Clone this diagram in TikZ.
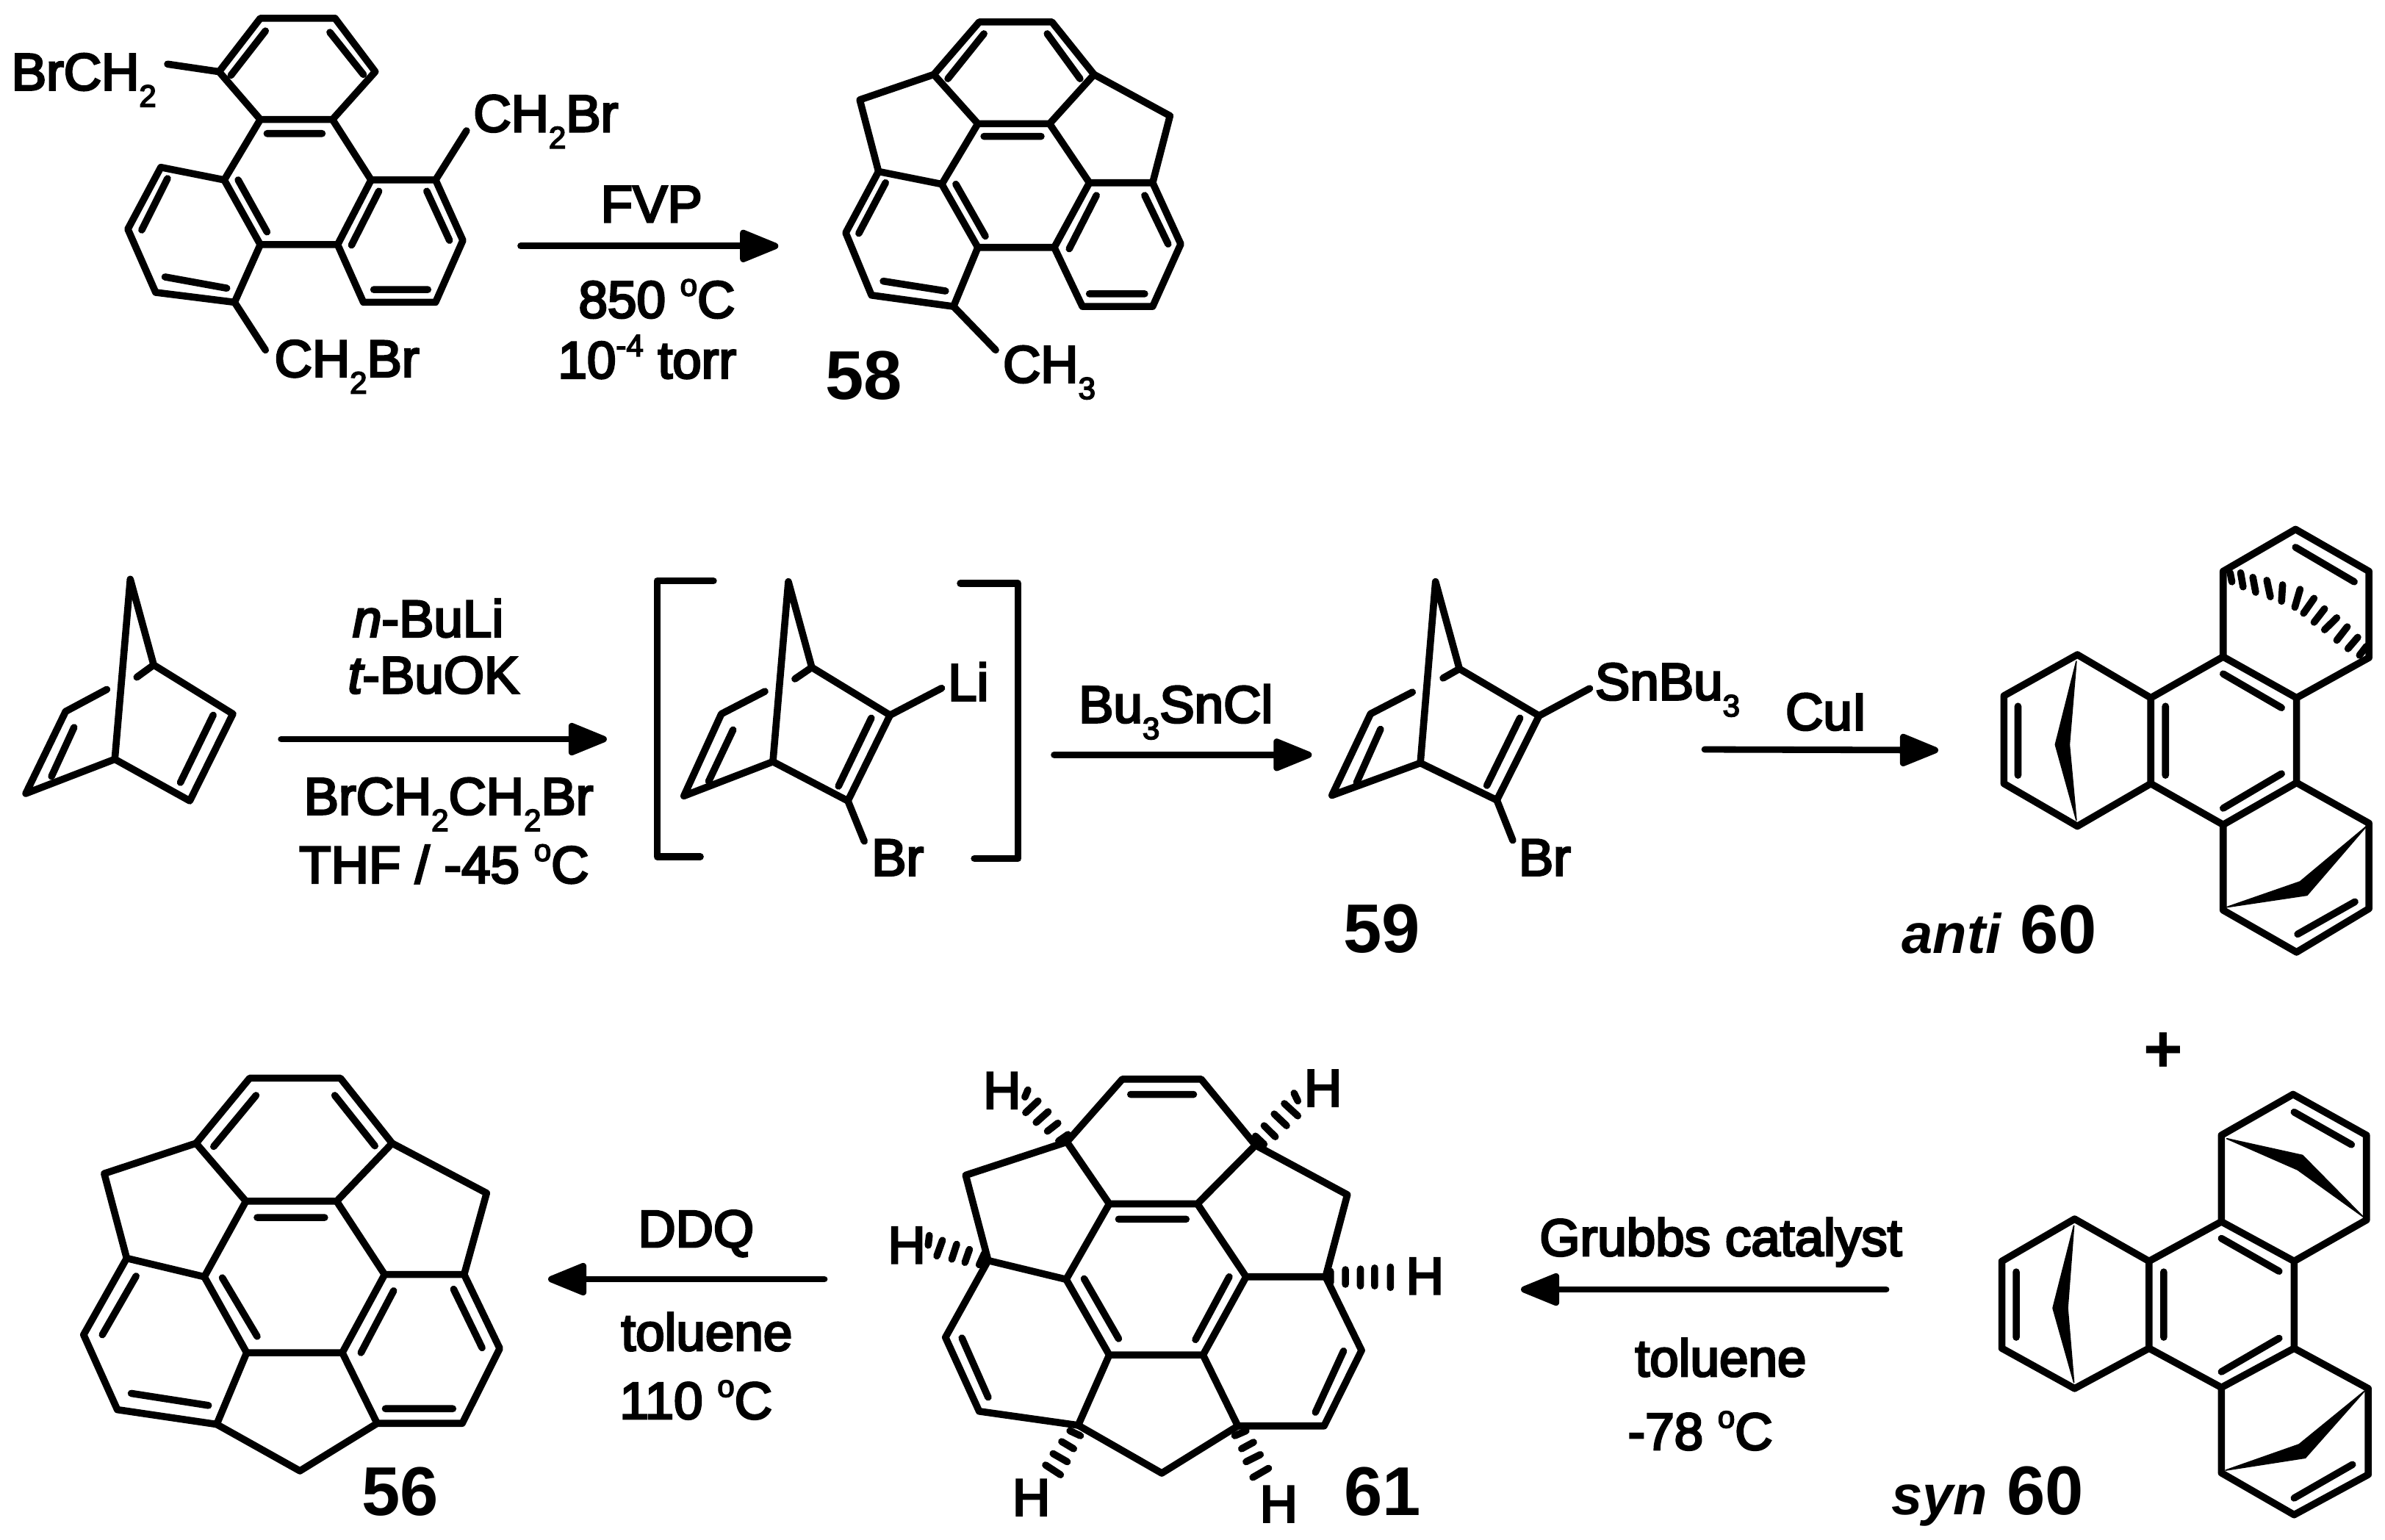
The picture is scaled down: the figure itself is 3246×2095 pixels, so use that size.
\documentclass[tikz,border=0pt]{standalone}
\usepackage{fontspec}
\setmainfont{Liberation Sans}
\newfontfamily\labf[FakeBold=4]{Liberation Sans}
\usetikzlibrary{arrows.meta}
\newcommand\dn[1]{\raisebox{-0.32em}{\fontsize{21}{21}\selectfont #1}}
\newcommand\up[1]{\raisebox{0.42em}{\fontsize{21}{21}\selectfont #1}}
\newcommand\atoms[1]{\foreach \n/\x/\y in {#1}{\coordinate (\n) at (\x,\y);}}
\tikzset{
  bond/.style={line width=4.8pt,line cap=round,line join=round,black},
  hash/.style={line width=4.8pt,line cap=round,black},
  wedge/.style={fill=black,draw=black,line width=.8pt,line join=round},
  rxn/.style={line width=4.4pt,line cap=round,black,-{Triangle[length=30pt,width=23pt,round]}},
  lab/.style={anchor=base west,inner sep=0pt,font=\labf\fontsize{35.5}{36}\selectfont},
  labc/.style={anchor=base,inner sep=0pt,font=\labf\fontsize{35.5}{36}\selectfont},
  num/.style={anchor=base west,inner sep=0pt,font=\bfseries\fontsize{47}{47}\selectfont},
  stereo/.style={anchor=base west,inner sep=0pt,font=\bfseries\fontsize{47}{47}\selectfont},
  zoomed/.style n args={4}{shift={(#1,#2)},xscale=#3/1568,yscale=#4/1568}
}
\begin{document}
\begin{tikzpicture}[x=0.5pt,y=-0.5pt]
\useasboundingbox (0,0) rectangle (3246,2095);
\fill[white] (0,0) rectangle (3246,2095);

% ---------- tribromide
\begin{scope}[zoomed={0}{0}{1100}{600}]
\atoms{Aa/505/65,Ab/650/65,Ac/728/255,Ad/645/425,Ae/505/425,Af/425/255,
 Ag/435/640,Ah/720/640,Ai/845/640,Aj/898/855,Ak/845/1075,Al/705/1075,Am/655/870,An/505/870,
 Ao/312/595,Ap/248/815,Aq/302/1040,Ar/455/1075,As/325/228,At/905/465,Au/515/1245,
 Av/1010/875,Aw/1510/875}
\draw[bond] (Aa)--(Ab)--(Ac)--(Ad)--(Ae)--(Af)--cycle;
\draw[bond] (Ae)--(Ag)--(An)--(Am)--(Ah)--(Ad);
\draw[bond] (Ah)--(Ai)--(Aj)--(Ak)--(Al)--(Am);
\draw[bond] (Ag)--(Ao)--(Ap)--(Aq)--(Ar)--(An);
\draw[bond] (Af)--(As) (Ai)--(At) (Ar)--(Au);
\draw[bond] (448,268)--(515,110) (640,115)--(705,265) (518,475)--(625,475)
 (462,640)--(518,825) (735,680)--(682,872) (828,680)--(872,855) (725,1030)--(830,1030)
 (325,635)--(275,818) (320,985)--(440,1025);
\draw[rxn] (Av)--(Aw);
\node[lab] (t1) at (22,320) {BrCH\dn{2}};
\node[lab] (t2) at (918,468) {CH\dn{2}Br};
\node[lab] (t3) at (532,1340) {CH\dn{2}Br};
\node[lab] (t4) at (1165,790) {FVP};
\node[lab] (t5) at (1122,1130) {850 \up{o}C};
\node[lab] (t6) at (1082,1345) {10\up{-4} torr};
\end{scope}

% ---------- 58
\begin{scope}[zoomed={1100}{0}{1000}{600}]
\atoms{Ba/365/78,Bb/520/78,Bc/610/265,Bd/515/440,Be/362/440,Bf/268/265,
 Bg/110/355,Bh/150/610,Bi/285/655,Bj/772/412,Bk/735/650,Bl/600/650,
 Bm/362/880,Bn/525/880,Bo/795/868,Bp/735/1090,Bq/585/1090,
 Br/80/828,Bs/135/1050,Bt/310/1090,Bu/400/1245}
\draw[bond] (Ba)--(Bb)--(Bc)--(Bd)--(Be)--(Bf)--cycle;
\draw[bond] (Bf)--(Bg)--(Bh)--(Bi)--(Be);
\draw[bond] (Bc)--(Bj)--(Bk)--(Bl)--(Bd);
\draw[bond] (Bi)--(Bm)--(Bn)--(Bl);
\draw[bond] (Bk)--(Bo)--(Bp)--(Bq)--(Bn);
\draw[bond] (Bh)--(Br)--(Bs)--(Bt)--(Bm);
\draw[bond] (Bt)--(Bu);
\draw[bond] (298,280)--(375,120) (510,120)--(580,280) (375,485)--(497,485)
 (315,655)--(378,840) (615,695)--(557,885) (718,695)--(768,868)
 (600,1045)--(718,1045) (160,1000)--(293,1035) (165,650)--(108,830);
\node[lab] (t7) at (415,1360) {CH\dn{3}};
\node[num] (t8) at (36,1420) {58};
\end{scope}

% ---------- norbornadiene
\begin{scope}[zoomed={0}{740}{1000}{522.67}]
\atoms{Ca/278/145,Cb/328/495,Cc/245/880,Cd/497/695,Ce/405/1050,Cf/55/1020,Cg/140/685,Ch/228/595,Ci/292/545,
 Cj/600/798,Ck/1295/798}
\draw[bond] (Ca)--(Cb)--(Cd)--(Ce)--(Cc)--(Ca);
\draw[bond] (Cc)--(Cf)--(Cg)--(Ch);
\draw[bond] (Cb)--(Ci);
\draw[bond] (455,700)--(385,975) (158,750)--(110,950);
\draw[rxn] (Cj)--(Ck);
\node[lab] (t9) at (752,380) {\itshape n\upshape -BuLi};
\node[lab] (t10) at (742,610) {\itshape t\upshape -BuOK};
\node[lab] (t11) at (648,1105) {BrCH\dn{2}CH\dn{2}Br};
\node[lab] (t12) at (638,1385) {THF / -45 \up{o}C};
\end{scope}

% ---------- intermediate
\begin{scope}[zoomed={800}{740}{1000}{522.67}]
\atoms{Da/428/155,Db/478/505,Dc/395/890,Dd/645/700,De/555/1050,Df/205/1030,Dg/285/695,Dh/378/603,Di/442/552,
 Dj/755/590,Dk/590/1215,Dl/995/862,Dm/1545/862,
 Dn/268/152,Do/148/152,Dp/148/1278,Dq/240/1278,Dr/795/162,Ds/918/162,Dt/918/1285,Du/825/1285}
\draw[bond] (Da)--(Db)--(Dd)--(De)--(Dc)--(Da);
\draw[bond] (Dc)--(Df)--(Dg)--(Dh);
\draw[bond] (Db)--(Di) (Dd)--(Dj) (De)--(Dk);
\draw[bond] (605,712)--(535,990) (310,760)--(258,970);
\draw[bond] (Dn)--(Do)--(Dp)--(Dq);
\draw[bond] (Dr)--(Ds)--(Dt)--(Du);
\draw[rxn] (Dl)--(Dm);
\node[lab] (t13) at (768,640) {Li};
\node[lab] (t14) at (605,1355) {Br};
\node[lab] (t15) at (1047,730) {Bu\dn{3}SnCl};
\end{scope}

% ---------- 59
\begin{scope}[zoomed={1700}{740}{850}{600}]
\atoms{Ea/468/135,Eb/528/445,Ec/430/780,Ed/728/612,Ee/622/912,Ef/208/895,Eg/305/605,Eh/410/528,Ei/487/478,
 Ej/855/515,Ek/662/1055}
\draw[bond] (Ea)--(Eb)--(Ed)--(Ee)--(Ec)--(Ea);
\draw[bond] (Ec)--(Ef)--(Eg)--(Eh);
\draw[bond] (Eb)--(Ei) (Ed)--(Ej) (Ee)--(Ek);
\draw[bond] (680,620)--(597,860) (330,660)--(270,850);
\node[lab] (t16) at (868,555) {SnBu\dn{3}};
\node[lab] (t17) at (676,1180) {Br};
\node[num] (t18) at (236,1455) {59};
\node[lab] (t19) at (1346,662) {CuI};
\end{scope}
\coordinate (Fa) at (2320,1020);
\coordinate (Fb) at (2638,1021);
\draw[rxn] (Fa)--(Fb);

% ---------- anti 60
\begin{scope}[zoomed={2500}{700}{746}{640}]
\atoms{Ga/688/468,Gb/478/605,Gc/478/898,Gd/688/1040,Ge/898/898,Gf/898/612,
 Gg/1105/475,Gh/1315/612,Gi/1315/895,Gj/1105/1035,
 Gk/1105/190,Gl/1312/50,Gm/1522/190,Gn/1522/478,
 Go/1522/1030,Gp/1522/1315,Gq/1315/1460,Gr/1105/1320}
\draw[bond] (Ga)--(Gb)--(Gc)--(Gd)--(Ge)--(Gf)--cycle;
\draw[bond] (Gf)--(Gg)--(Gh)--(Gi)--(Gj)--(Ge);
\draw[bond] (Gg)--(Gk)--(Gl)--(Gm)--(Gn)--(Gh);
\draw[bond] (Gi)--(Go)--(Gp)--(Gq)--(Gr)--(Gj);
\draw[bond] (518,640)--(518,870) (940,640)--(940,870) (1105,532)--(1272,645) (1272,865)--(1105,980)
 (1312,110)--(1480,225) (1318,1400)--(1482,1292);
\fill[wedge] (685,490)--(625,768)--(685,1020)--(665,768)--cycle;
\fill[wedge] (1515,1040)--(1325,1225)--(1115,1310)--(1345,1270)--cycle;
\draw[hash] (1125,195)--(1130,225) (1155,195)--(1162,242) (1190,210)--(1198,260) (1230,220)--(1240,275)
 (1275,235)--(1272,290) (1325,250)--(1310,310) (1365,280)--(1335,330) (1395,315)--(1365,360)
 (1430,345)--(1395,385) (1460,375)--(1430,420) (1490,410)--(1462,448) (1515,440)--(1495,470);
\node[stereo] (t20) at (185,1465) {{\fontsize{38}{38}\selectfont\itshape anti} 60};
\end{scope}

% ---------- syn 60
\begin{scope}[zoomed={2500}{1380}{746}{715}]
\atoms{Ha/680/612,Hb/472/738,Hc/472/998,Hd/680/1118,He/893/998,Hf/893/738,
 Hg/1100/620,Hh/1308/738,Hi/1308/998,Hj/1100/1115,
 Hk/1100/362,Hl/1305/240,Hm/1515/362,Hn/1515/615,
 Ho/1520/1118,Hp/1520/1375,Hq/1308/1495,Hr/1100/1370}
\draw[bond] (Ha)--(Hb)--(Hc)--(Hd)--(He)--(Hf)--cycle;
\draw[bond] (Hf)--(Hg)--(Hh)--(Hi)--(Hj)--(He);
\draw[bond] (Hg)--(Hk)--(Hl)--(Hm)--(Hn)--(Hh);
\draw[bond] (Hi)--(Ho)--(Hp)--(Hq)--(Hr)--(Hj);
\draw[bond] (513,770)--(513,965) (935,770)--(935,965) (1100,670)--(1265,768) (1265,968)--(1100,1068)
 (1308,293)--(1472,390) (1308,1445)--(1475,1345);
\fill[wedge] (678,632)--(618,878)--(678,1100)--(660,878)--cycle;
\fill[wedge] (1115,372)--(1332,422)--(1505,605)--(1318,465)--cycle;
\fill[wedge] (1510,1125)--(1322,1285)--(1112,1362)--(1340,1325)--cycle;
\node[stereo] (t21) at (155,1495) {{\fontsize{38}{38}\selectfont\itshape syn} 60};
\node[inner sep=0pt,font=\bfseries\fontsize{46}{46}\selectfont] (t22) at (935,116) {+};
\end{scope}

% ---------- 61
\begin{scope}[zoomed={1150}{1400}{800}{695}]
\atoms{Ia/740/155,Ib/950/155,Ic/592/348,Id/1095/358,Ie/705/538,If/940/538,
 Ig/322/450,Ih/382/712,Ii/1340/510,Ij/1282/762,Ik/590/770,Il/1070/762,
 Im/705/1002,In/955/1002,Io/268/948,Ip/358/1175,Iq/622/1218,
 Ir/1378/988,Is/1278/1220,It/1048/1220,Iu/845/1365}
\draw[bond] (Ic)--(Ia)--(Ib)--(Id)--(If)--(Ie)--cycle;
\draw[bond] (Ic)--(Ig)--(Ih)--(Ik)--(Ie);
\draw[bond] (Id)--(Ii)--(Ij)--(Il)--(If);
\draw[bond] (Ik)--(Im)--(In)--(Il);
\draw[bond] (Ih)--(Io)--(Ip)--(Iq)--(Im);
\draw[bond] (Ij)--(Ir)--(Is)--(It)--(In);
\draw[bond] (Iq)--(Iu)--(It);
\draw[bond] (762,202)--(930,202) (730,585)--(910,585) (638,768)--(730,952) (1025,762)--(935,955)
 (312,950)--(382,1132) (1330,990)--(1255,1178);
\draw[hash] (570,345)--(595,325) (540,315)--(568,290) (510,288)--(542,255) (482,258)--(515,222) (480,210)--(488,188)
 (1095,330)--(1118,355) (1118,298)--(1148,332) (1145,262)--(1178,298) (1172,230)--(1208,268) (1198,198)--(1208,222)
 (358,725)--(372,690) (320,718)--(332,678) (285,708)--(298,662) (245,698)--(260,650) (222,665)--(225,635)
 (1295,745)--(1295,780) (1335,740)--(1335,785) (1375,738)--(1375,790) (1413,735)--(1413,790) (1455,732)--(1455,795)
 (600,1235)--(628,1250) (578,1268)--(610,1290) (555,1305)--(593,1330) (535,1340)--(575,1370)
 (1040,1250)--(1070,1235) (1058,1290)--(1090,1270) (1070,1330)--(1108,1308) (1088,1378)--(1130,1350);
\node[lab] (t23) at (368,245) {H};
\node[lab] (t24) at (1224,238) {H};
\node[lab] (t25) at (114,720) {H};
\node[lab] (t26) at (1496,815) {H};
\node[lab] (t27) at (446,1495) {H};
\node[lab] (t28) at (1106,1515) {H};
\node[num] (t29) at (1331,1495) {61};
\end{scope}

% ---------- 56
\begin{scope}[zoomed={50}{1400}{800}{695}]
\atoms{Ja/568/152,Jb/810/152,Jc/425/352,Jd/948/352,Je/558/530,Jf/800/530,
 Jg/180/445,Jh/240/705,Ji/1200/505,Jj/1140/755,Jk/447/762,Jl/928/755,
 Jm/560/995,Jn/815/995,Jo/125/940,Jp/215/1170,Jq/480/1215,
 Jr/1235/982,Js/1135/1212,Jt/908/1212,Ju/702/1358}
\draw[bond] (Jc)--(Ja)--(Jb)--(Jd)--(Jf)--(Je)--cycle;
\draw[bond] (Jc)--(Jg)--(Jh)--(Jk)--(Je);
\draw[bond] (Jd)--(Ji)--(Jj)--(Jl)--(Jf);
\draw[bond] (Jk)--(Jm)--(Jn)--(Jl);
\draw[bond] (Jh)--(Jo)--(Jp)--(Jq)--(Jm);
\draw[bond] (Jj)--(Jr)--(Js)--(Jt)--(Jn);
\draw[bond] (Jq)--(Ju)--(Jt);
\draw[bond] (472,362)--(585,205) (795,205)--(902,360) (588,580)--(768,580) (495,765)--(588,945)
 (265,760)--(175,940) (952,805)--(865,995) (1112,800)--(1188,980) (930,1167)--(1110,1167) (252,1120)--(458,1157);
\node[num] (t30) at (866,1495) {56};
\end{scope}

% ---------- bottom arrows
\coordinate (Ka) at (1122,1741);
\coordinate (Kb) at (746,1741);
\draw[rxn] (Ka)--(Kb);
\coordinate (La) at (2567,1755);
\coordinate (Lb) at (2070,1755);
\draw[rxn] (La)--(Lb);
\node[lab] (t31) at (868,1697) {DDQ};
\node[lab] (t32) at (845,1838) {toluene};
\node[lab] (t33) at (843,1931) {110 \up{o}C};
\node[labc] (t34) at (2342,1709) {Grubbs catalyst};
\node[labc] (t35) at (2342,1873) {toluene};
\node[labc] (t36) at (2314,1973) {-78 \up{o}C};
\end{tikzpicture}
\end{document}
